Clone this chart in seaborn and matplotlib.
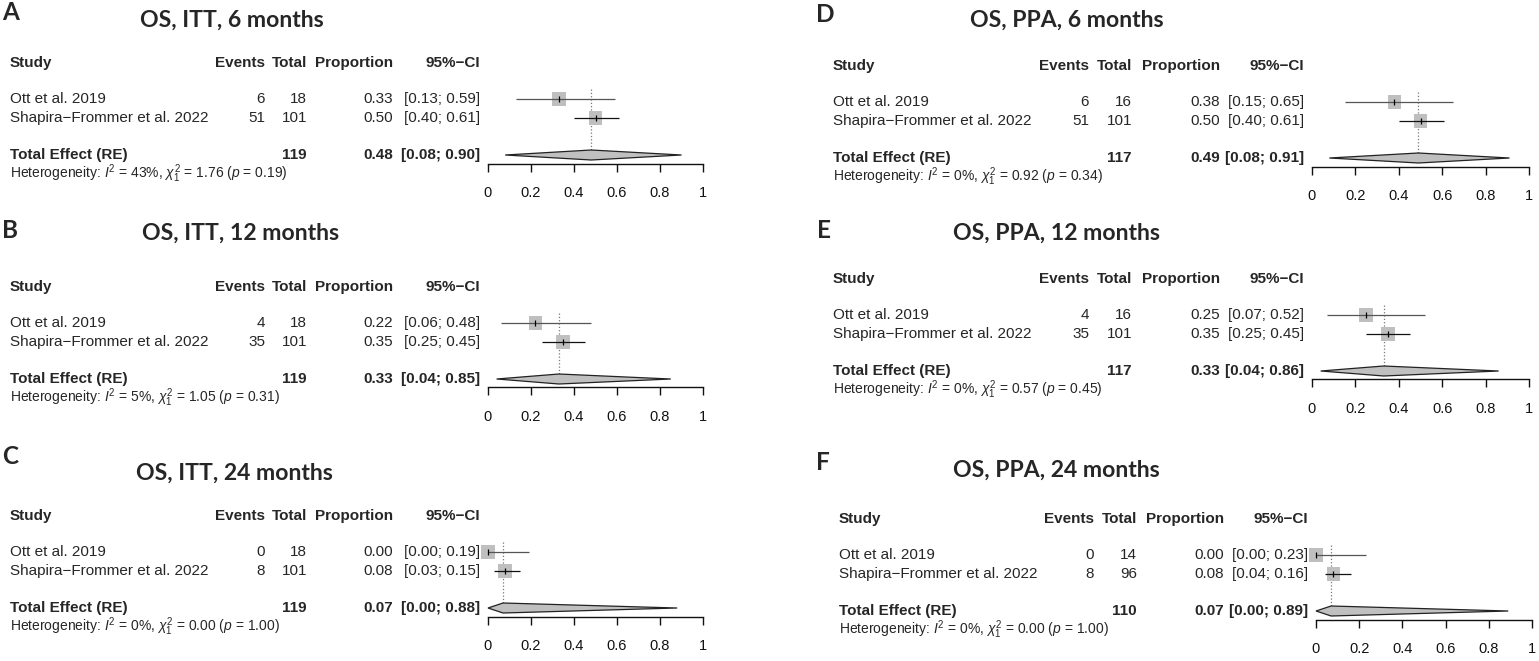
### forest plots of overall survival proportions, six panels
import matplotlib
matplotlib.use("Agg")
import matplotlib.pyplot as plt
import pandas as pd
import seaborn as sns

### data
letters = ["A", "B", "C", "D", "E", "F"]
titles = ["OS, ITT, 6 months", "OS, ITT, 12 months", "OS, ITT, 24 months",
          "OS, PPA, 6 months", "OS, PPA, 12 months", "OS, PPA, 24 months"]
studies = ["Ott et al. 2019", "Shapira\u2212Frommer et al. 2022"]

events = [[6, 51], [4, 35], [0, 8], [6, 51], [4, 35], [0, 8]]
totals = [[18, 101], [18, 101], [18, 101], [16, 101], [16, 101], [14, 96]]
props = [[0.33, 0.50], [0.22, 0.35], [0.00, 0.08],
         [0.38, 0.50], [0.25, 0.35], [0.00, 0.08]]
ci_low = [[0.13, 0.40], [0.06, 0.25], [0.00, 0.03],
          [0.15, 0.40], [0.07, 0.25], [0.00, 0.04]]
ci_high = [[0.59, 0.61], [0.48, 0.45], [0.19, 0.15],
           [0.65, 0.61], [0.52, 0.45], [0.23, 0.16]]

pooled_n = [119, 119, 119, 117, 117, 110]
pooled = [0.48, 0.33, 0.07, 0.49, 0.33, 0.07]
pooled_low = [0.08, 0.04, 0.00, 0.08, 0.04, 0.00]
pooled_high = [0.90, 0.85, 0.88, 0.91, 0.86, 0.89]
i2 = [43, 5, 0, 0, 0, 0]
chi2 = [1.76, 1.05, 0.00, 0.92, 0.57, 0.00]
pvals = [0.19, 0.31, 1.00, 0.34, 0.45, 1.00]

ticks = [0, 0.2, 0.4, 0.6, 0.8, 1]
tick_labels = ["0", "0.2", "0.4", "0.6", "0.8", "1"]
headers = ["Study", "Events", "Total", "Proportion", "95%\u2212CI"]

### layout in pixels
W, H = 1539, 661
axis_px = [(488, 703)] * 3 + [(1312, 1529), (1312, 1529), (1316, 1532)]
cols_px = [(10, 265, 307, 393, 480)] * 3 + \
          [(833, 1089, 1132, 1220, 1304)] * 2 + [(839, 1094, 1137, 1224, 1308)]
letter_px = [(2, 13), (2, 230), (2, 456), (816, 15), (817, 230), (816, 463)]
title_px = [(140, 20), (142, 233), (136, 473), (970, 20), (953, 233), (953, 470)]
header_px = [63, 287, 516, 66, 279, 519]
row_off = [36, 55]      # study rows below header
line_cols = ["#555555", "#111111"]
total_off = 92
het_off = 110
axis_off = 100.5

sns.set_theme(style="white")
plt.rcParams["font.family"] = ["Liberation Sans", "DejaVu Sans"]
plt.rcParams["mathtext.fontset"] = "custom"
plt.rcParams["mathtext.rm"] = "Liberation Sans"
plt.rcParams["mathtext.it"] = "Liberation Sans:italic"

FS = 11
fig = plt.figure(figsize=(W / 100, H / 100), dpi=100)

for k in range(6):
    x0, x1 = axis_px[k]
    span = x1 - x0
    hy = header_px[k]
    left, right = x0 - 0.1 * span, x1 + 0.1 * span
    top, bottom = hy - 10, hy + axis_off
    ax = fig.add_axes([left / W, 1 - bottom / H, (right - left) / W, (bottom - top) / H])
    ax.set_xlim(-0.1, 1.1)
    ax.set_ylim(axis_off, -10)

    def cx(px):
        return (px - x0) / span

    c_study, c_ev, c_tot, c_prop, c_ci = [cx(p) for p in cols_px[k]]

    # panel letter and title
    ax.text(cx(letter_px[k][0]), letter_px[k][1] - hy, letters[k], family="Lato",
            weight="bold", fontsize=17.5, ha="left", va="center")
    ax.text(cx(title_px[k][0]), title_px[k][1] - hy, titles[k], family="Lato",
            weight="bold", fontsize=16.6, ha="left", va="center")

    # header row
    ax.text(c_study, 0, headers[0], weight="bold", fontsize=FS, ha="left", va="center")
    for c, h in zip([c_ev, c_tot, c_prop, c_ci], headers[1:]):
        ax.text(c, 0, h, weight="bold", fontsize=FS, ha="right", va="center")

    # study rows
    for i in range(2):
        y = row_off[i]
        ax.text(c_study, y, studies[i], fontsize=FS, ha="left", va="center")
        ax.text(c_ev, y, str(events[k][i]), fontsize=FS, ha="right", va="center")
        ax.text(c_tot, y, str(totals[k][i]), fontsize=FS, ha="right", va="center")
        ax.text(c_prop, y, f"{props[k][i]:.2f}", fontsize=FS, ha="right", va="center")
        ax.text(c_ci, y, f"[{ci_low[k][i]:.2f}; {ci_high[k][i]:.2f}]",
                fontsize=FS, ha="right", va="center")

    # pooled row
    ax.text(c_study, total_off, "Total Effect (RE)", weight="bold", fontsize=FS,
            ha="left", va="center")
    ax.text(c_tot, total_off, str(pooled_n[k]), weight="bold", fontsize=FS,
            ha="right", va="center")
    ax.text(c_prop, total_off, f"{pooled[k]:.2f}", weight="bold", fontsize=FS,
            ha="right", va="center")
    ax.text(c_ci, total_off, f"[{pooled_low[k]:.2f}; {pooled_high[k]:.2f}]",
            weight="bold", fontsize=FS, ha="right", va="center")
    het = (r"Heterogeneity: $I^2$ = " + f"{i2[k]}%, " + r"$\chi^2_1$ = "
           + f"{chi2[k]:.2f} (" + r"$p$" + f" = {pvals[k]:.2f})")
    ax.text(c_study, het_off + 5, het, fontsize=10, ha="left", va="baseline")

    # forest marks
    df = pd.DataFrame({"prop": props[k], "row": row_off})
    ax.vlines(pooled[k], 26, 87, colors="#777777", linestyles=":", lw=0.9, zorder=1)
    sns.scatterplot(data=df, x="prop", y="row", marker="s", s=95, color="#bfbfbf",
                    edgecolor="none", legend=False, ax=ax, zorder=2)
    ax.hlines(row_off, ci_low[k], ci_high[k], colors=line_cols, lw=0.9, zorder=3)
    ax.vlines(props[k], [r - 3 for r in row_off], [r + 3 for r in row_off],
              colors="black", lw=0.9, zorder=3)
    ax.fill([pooled_low[k], pooled[k], pooled_high[k], pooled[k]],
            [total_off, total_off - 5, total_off, total_off + 5],
            facecolor="#c0c0c0", edgecolor="#222222", lw=0.9, zorder=3)

    # axis
    ax.set(xlabel="", ylabel="")
    ax.set_yticks([])
    ax.set_xticks(ticks)
    ax.set_xticklabels(tick_labels)
    for s in ["top", "left", "right"]:
        ax.spines[s].set_visible(False)
    ax.spines["bottom"].set_bounds(0, 1)
    ax.spines["bottom"].set_color("#111111")
    ax.spines["bottom"].set_linewidth(1.0)
    ax.tick_params(axis="x", bottom=True, direction="out", length=5.5, width=1.0,
                   pad=10.5, labelsize=10.5, colors="#111111")
    ax.patch.set_visible(False)

fig.savefig("out.png", dpi=100)
